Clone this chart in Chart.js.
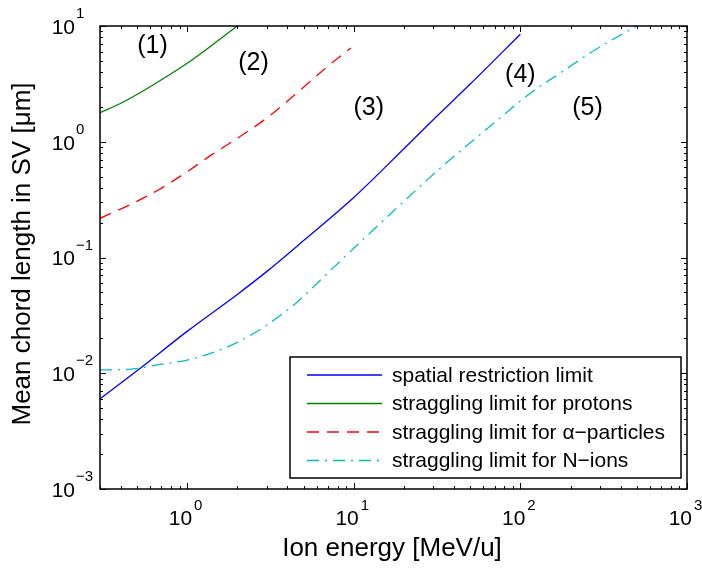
<!DOCTYPE html>
<html>
<head>
<meta charset="utf-8">
<script src="https://cdn.jsdelivr.net/npm/chart.js@4.4.0/dist/chart.umd.min.js"></script>
<style>
  html, body { margin: 0; padding: 0; background: #fff; }
</style>
</head>
<body>
<canvas id="chord" width="702" height="568"></canvas>
<script>
// values (ion energy in MeV/u, chord length in um)
const spatialE = [0.3, 0.5, 1, 2, 3, 5, 10, 20, 30, 50, 100];
const spatialL = [0.006, 0.0105, 0.023, 0.048, 0.0755, 0.14, 0.33, 0.87, 1.55, 3.15, 8.5];

const protonE = [0.3, 0.4, 0.6, 1, 1.5, 2];
const protonL = [1.78, 2.15, 2.99, 4.76, 7.3, 10];

const alphaE = [0.3, 0.45, 0.67, 1, 1.4, 2, 3, 5, 7, 9.6];
const alphaL = [0.218, 0.284, 0.383, 0.55, 0.77, 1.07, 1.6, 2.96, 4.5, 6.46];

const nionE = [0.3, 0.45, 0.66, 1, 1.5, 2, 3, 4.6, 6.6, 10, 16.7, 33, 73, 111, 177, 280, 500];
const nionL = [0.0107, 0.0108, 0.0118, 0.013, 0.0155, 0.0185, 0.026, 0.0415, 0.068, 0.12, 0.24, 0.59, 1.54, 2.53, 4.0, 6.2, 10];

const seriesNames = [
  'spatial restriction limit',
  'straggling limit for protons',
  'straggling limit for \u03b1\u2212particles',
  'straggling limit for N\u2212ions'
];

const regionText = ['(1)', '(2)', '(3)', '(4)', '(5)'];
const regionE = [0.62, 2.5, 12.3, 100, 253];
const regionL = [6.7, 4.8, 1.96, 3.77, 1.96];

const xMajor = [1, 10, 100, 1000];
const xExp = ['0', '1', '2', '3'];
const yMajor = [1e-3, 1e-2, 1e-1, 1, 10];
const yExp = ['\u22123', '\u22122', '\u22121', '0', '1'];

const pts = (xs, ys) => xs.map((x, i) => ({ x: x, y: ys[i] }));

const FONT = 'Arial, "Liberation Sans", Helvetica, sans-serif';

// MATLAB style frame, inward ticks, labels, legend
const matlabAxes = {
  id: 'matlabAxes',
  afterDraw(chart) {
    const ctx = chart.ctx;
    const a = chart.chartArea;
    const sx = chart.scales.x;
    const sy = chart.scales.y;
    ctx.save();

    // minor + major ticks on all four sides
    ctx.strokeStyle = '#000';
    ctx.lineWidth = 1;
    const tick = (px, len, vertical) => {
      ctx.beginPath();
      if (vertical) {
        ctx.moveTo(px, a.bottom); ctx.lineTo(px, a.bottom - len);
        ctx.moveTo(px, a.top); ctx.lineTo(px, a.top + len);
      } else {
        ctx.moveTo(a.left, px); ctx.lineTo(a.left + len, px);
        ctx.moveTo(a.right, px); ctx.lineTo(a.right - len, px);
      }
      ctx.stroke();
    };
    for (let d = 0.1; d <= 100; d *= 10) {
      for (let k = 2; k <= 9; k++) {
        const v = d * k;
        if (v >= 0.3 && v <= 1000) tick(Math.round(sx.getPixelForValue(v)) + 0.5, 3, true);
      }
    }
    xMajor.forEach(v => tick(Math.round(sx.getPixelForValue(v)) + 0.5, 6, true));
    for (let d = 0.001; d < 10; d *= 10) {
      for (let k = 2; k <= 9; k++) tick(Math.round(sy.getPixelForValue(d * k)) + 0.5, 3, false);
    }
    yMajor.forEach(v => tick(Math.round(sy.getPixelForValue(v)) + 0.5, 6, false));

    // frame
    ctx.lineWidth = 1.5;
    ctx.strokeRect(a.left, a.top, a.right - a.left, a.bottom - a.top);

    // tick labels 10^n
    ctx.fillStyle = '#000';
    ctx.textBaseline = 'middle';
    xMajor.forEach((v, i) => {
      const px = sx.getPixelForValue(v);
      ctx.font = '21px ' + FONT;
      ctx.textAlign = 'right';
      ctx.fillText('10', px + 5, 519);
      ctx.font = '15px ' + FONT;
      ctx.textAlign = 'left';
      ctx.fillText(xExp[i], px + 7, 506);
    });
    yMajor.forEach((v, i) => {
      const py = sy.getPixelForValue(v);
      ctx.font = '21px ' + FONT;
      ctx.textAlign = 'right';
      ctx.fillText('10', 75, py + 2);
      ctx.font = '15px ' + FONT;
      ctx.textAlign = 'left';
      ctx.fillText(yExp[i], 76, py - 12);
    });

    // axis titles
    ctx.font = '26px ' + FONT;
    ctx.textAlign = 'center';
    ctx.fillText('Ion energy [MeV/u]', 392, 549);
    ctx.save();
    ctx.translate(23, 254);
    ctx.rotate(-Math.PI / 2);
    ctx.fillText('Mean chord length in SV [\u03bcm]', 0, 0);
    ctx.restore();

    // region labels
    ctx.font = '25px ' + FONT;
    regionText.forEach((t, i) => {
      ctx.fillText(t, sx.getPixelForValue(regionE[i]), sy.getPixelForValue(regionL[i]));
    });

    // legend box
    const bx = 290, by = 357, bw = 391, bh = 121;
    ctx.fillStyle = '#fff';
    ctx.fillRect(bx, by, bw, bh);
    ctx.strokeStyle = '#000';
    ctx.lineWidth = 1.5;
    ctx.strokeRect(bx, by, bw, bh);
    ctx.font = '21px ' + FONT;
    ctx.textAlign = 'left';
    chart.data.datasets.forEach((ds, i) => {
      const ry = 375 + i * 28.5;
      ctx.strokeStyle = ds.borderColor;
      ctx.lineWidth = ds.borderWidth;
      ctx.setLineDash(ds.borderDash || []);
      ctx.beginPath();
      ctx.moveTo(307, ry);
      ctx.lineTo(382, ry);
      ctx.stroke();
      ctx.setLineDash([]);
      ctx.fillStyle = '#000';
      ctx.fillText(ds.label, 392, ry + 1);
    });
    ctx.restore();
  }
};

new Chart(document.getElementById('chord'), {
  type: 'line',
  data: {
    datasets: [
      {
        label: seriesNames[0],
        data: pts(spatialE, spatialL),
        borderColor: '#0000ff',
        borderWidth: 1.3,
      },
      {
        label: seriesNames[1],
        data: pts(protonE, protonL),
        borderColor: '#008000',
        borderWidth: 1.3,
      },
      {
        label: seriesNames[2],
        data: pts(alphaE, alphaL),
        borderColor: '#ff0000',
        borderWidth: 1.3,
        borderDash: [12, 8],
      },
      {
        label: seriesNames[3],
        data: pts(nionE, nionL),
        borderColor: '#00bfbf',
        borderWidth: 1.3,
        borderDash: [12, 6, 2, 6],
      },
    ],
  },
  options: {
    responsive: false,
    animation: false,
    devicePixelRatio: 1,
    layout: { padding: { left: 100, right: 15, top: 26, bottom: 79 } },
    elements: {
      point: { radius: 0 },
      line: { cubicInterpolationMode: 'monotone', fill: false },
    },
    plugins: { legend: { display: false }, tooltip: { enabled: false } },
    scales: {
      x: { type: 'logarithmic', min: 0.3, max: 1000, display: false },
      y: { type: 'logarithmic', min: 0.001, max: 10, display: false },
    },
  },
  plugins: [matlabAxes],
});
</script>
</body>
</html>
